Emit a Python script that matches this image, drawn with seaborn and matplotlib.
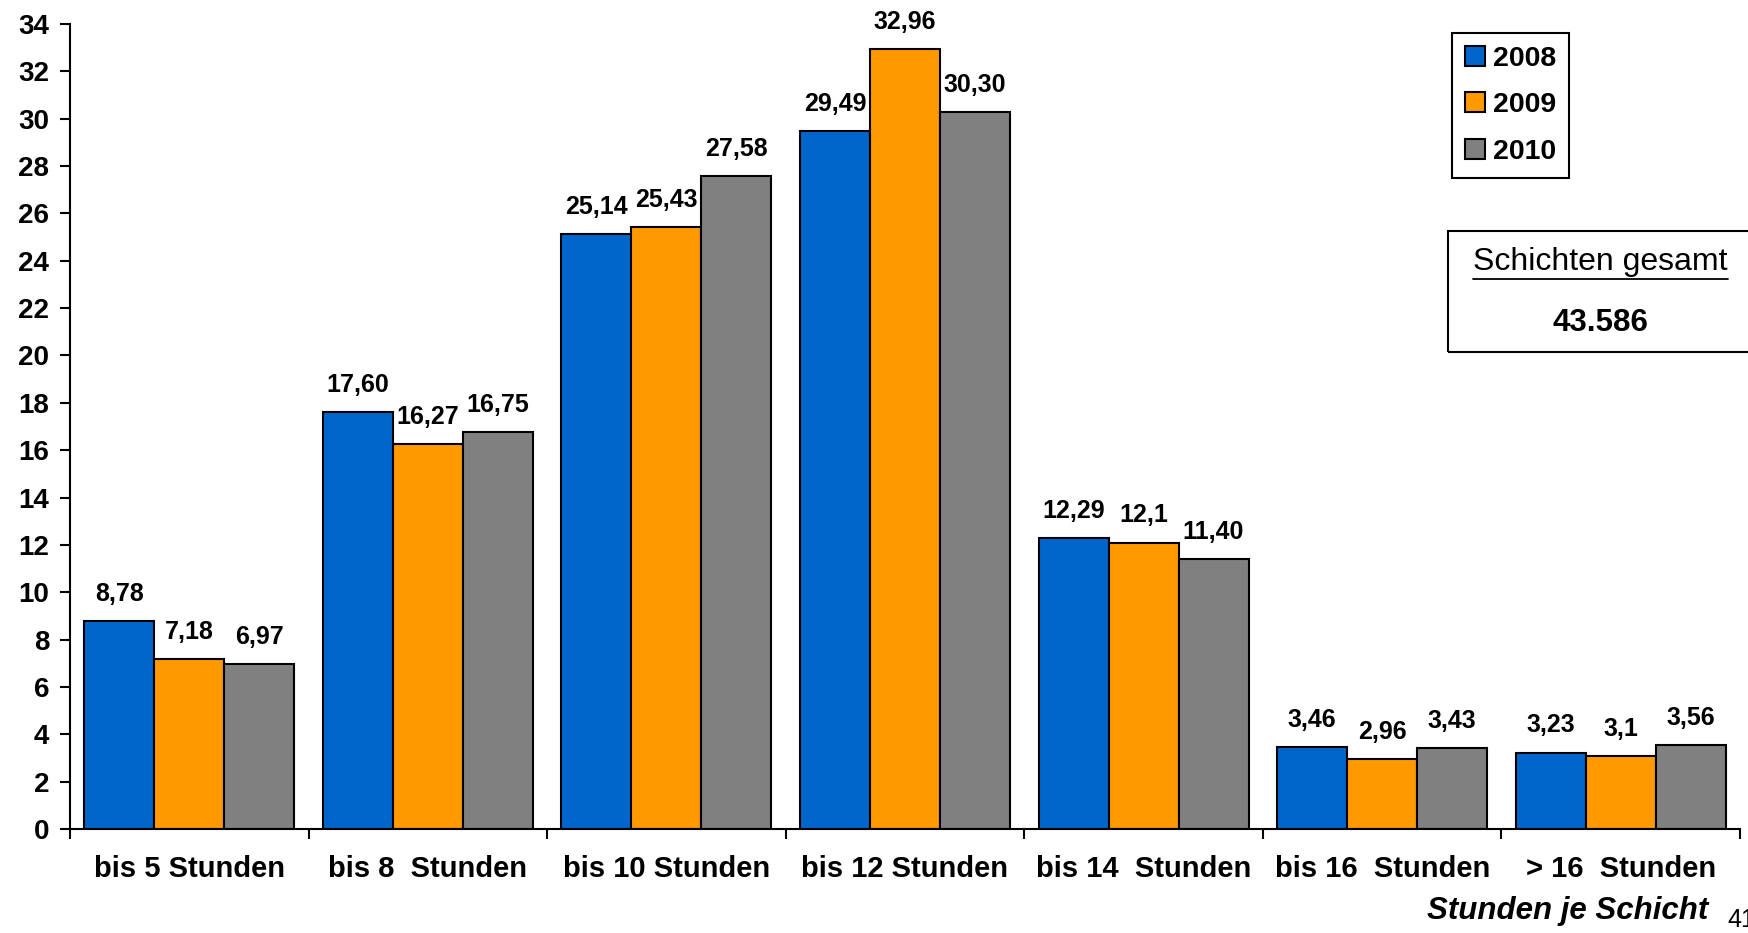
import numpy as np
import pandas as pd
import matplotlib
matplotlib.use('Agg')
import matplotlib.pyplot as plt
import seaborn as sns
from matplotlib.patches import Patch, Rectangle
from matplotlib.lines import Line2D

# --- Daten ---
kategorien = ['bis 5 Stunden', 'bis 8  Stunden', 'bis 10 Stunden', 'bis 12 Stunden',
              'bis 14  Stunden', 'bis 16  Stunden', '> 16  Stunden']
jahre = ['2008', '2009', '2010']
werte_2008 = [8.78, 17.60, 25.14, 29.49, 12.29, 3.46, 3.23]
werte_2009 = [7.18, 16.27, 25.43, 32.96, 12.1, 2.96, 3.1]
werte_2010 = [6.97, 16.75, 27.58, 30.30, 11.40, 3.43, 3.56]
texte_2008 = ['8,78', '17,60', '25,14', '29,49', '12,29', '3,46', '3,23']
texte_2009 = ['7,18', '16,27', '25,43', '32,96', '12,1', '2,96', '3,1']
texte_2010 = ['6,97', '16,75', '27,58', '30,30', '11,40', '3,43', '3,56']
schichten_gesamt = '43.586'

farben = ['#0066CC', '#FF9900', '#808080']

df = pd.DataFrame({
    'Kategorie': kategorien * 3,
    'Jahr': np.repeat(jahre, len(kategorien)),
    'Wert': werte_2008 + werte_2009 + werte_2010,
})

sns.set_style('ticks')
plt.rcParams['font.family'] = ['Liberation Sans', 'DejaVu Sans']
plt.rcParams['text.color'] = 'black'

W, H = 1749, 933
fig = plt.figure(figsize=(W / 100, H / 100), dpi=100)
ax = fig.add_axes([70 / W, 1 - 829 / H, 1670 / W, 805 / H])

sns.barplot(data=df, x='Kategorie', y='Wert', hue='Jahr', palette=farben,
            saturation=1, width=0.88, edgecolor='black', linewidth=1.5,
            errorbar=None, legend=False, ax=ax)

# Werte ueber den Balken
for container, texte in zip(ax.containers, [texte_2008, texte_2009, texte_2010]):
    for bar, t in zip(container, texte):
        ax.annotate(t, (bar.get_x() + bar.get_width() / 2, bar.get_height()),
                    xytext=(0, 19.5), textcoords='offset points', color='black',
                    ha='center', va='center', fontsize=18, fontweight='bold')

# Achsen
ax.set_xlim(-0.5, len(kategorien) - 0.5)
ax.set_ylim(0, 34)
ax.set_yticks(range(0, 35, 2))
ax.set_xticks(range(len(kategorien)))
ax.set_xticklabels(kategorien)
ax.set_xticks(np.arange(-0.5, len(kategorien), 1), minor=True)
ax.set_xlabel('')
ax.set_ylabel('')
sns.despine(ax=ax)
for s in ['left', 'bottom']:
    ax.spines[s].set_linewidth(1.5)
    ax.spines[s].set_color('black')

ax.tick_params(axis='y', length=7, width=1.5, direction='out', labelsize=20, pad=8, colors='black')
ax.tick_params(axis='x', which='major', length=0, pad=19, labelsize=21, colors='black')
ax.tick_params(axis='x', which='minor', length=7, width=1.5, direction='out', colors='black')
for lab in ax.get_yticklabels() + ax.get_xticklabels():
    lab.set_fontweight('bold')

# Legende
handles = [Patch(facecolor=c, edgecolor='black', linewidth=1.5) for c in farben]
leg = ax.legend(handles, jahre, loc='upper left', bbox_to_anchor=(1452 / W, 1 - 33 / H),
                bbox_transform=fig.transFigure, borderaxespad=0, fancybox=False,
                frameon=True, edgecolor='black', framealpha=1,
                prop={'weight': 'bold', 'size': 20.5},
                handlelength=0.7, handleheight=0.7, handletextpad=0.3,
                labelspacing=0.72, borderpad=0.45)
leg.get_frame().set_linewidth(1.5)

# Kasten "Schichten gesamt"
fig.add_artist(Rectangle((1448 / W, 1 - 352 / H), 0.2, 121 / H, transform=fig.transFigure,
                         fill=False, edgecolor='black', linewidth=1.5, clip_on=False))
fig.text(1600 / W, 1 - 262 / H, 'Schichten gesamt', ha='center', va='center', fontsize=23)
fig.add_artist(Line2D([1473 / W, 1728 / W], [1 - 279 / H, 1 - 279 / H],
                      transform=fig.transFigure, color='black', linewidth=1.3))
fig.text(1600 / W, 1 - 323 / H, schichten_gesamt, ha='center', va='center',
         fontsize=22.5, fontweight='bold')

# Achsentitel und Seitenzahl
fig.text(1708 / W, 1 - 911 / H, 'Stunden je Schicht', ha='right', va='center',
         fontsize=22.5, fontweight='bold', fontstyle='italic')
fig.text(1727 / W, 1 - 920 / H, '41', ha='left', va='center', fontsize=18)

fig.savefig('out.png', dpi=100)
